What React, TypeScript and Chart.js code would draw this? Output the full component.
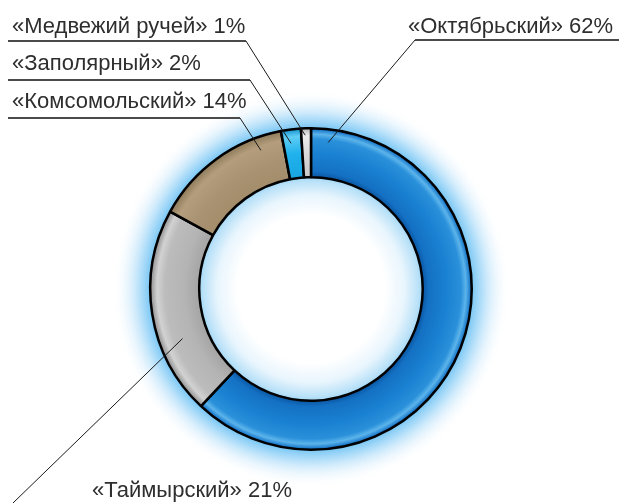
import React, { useEffect, useRef } from 'react';
import { Chart, registerables } from 'chart.js';
Chart.register(...registerables);

const mines = ['«Октябрьский»', '«Таймырский»', '«Комсомольский»', '«Заполярный»', '«Медвежий ручей»'];
const shares = [62, 21, 14, 2, 1];

// gradient stops (inner -> outer) for each slice
const sliceStops: [number, string][][] = [
  [[0, '#0a56a2'], [0.12, '#1470c2'], [0.5, '#1a82d2'], [0.78, '#2a90da'], [0.88, '#5cb4ea'], [0.95, '#2a88d4'], [1, '#0c5eae']],
  [[0, '#a4a4a4'], [0.3, '#b4b4b4'], [0.7, '#bcbcbc'], [0.86, '#d2d2d2'], [1, '#8e8e8e']],
  [[0, '#a38d6a'], [0.4, '#a89272'], [0.8, '#b39d7c'], [1, '#8e7a5a']],
  [[0, '#18a6e2'], [0.5, '#1fb2ec'], [0.85, '#60cdf4'], [1, '#1492d0']],
  [[0, '#c8c8c8'], [0.5, '#dadada'], [0.85, '#ececec'], [1, '#b4b4b4']],
];

// label layout: text position, underline, leader start, and anchor inside the slice
const labelLayout = [
  { tx: 408, ty: 33, ul: [415, 619, 40], from: [415, 40], frac: 0.03, rf: 0.73 },
  { tx: 92, ty: 497, ul: null, from: [13, 503], frac: 0.34, rf: 0.53 },
  { tx: 12, ty: 108, ul: [8, 240, 118], from: [240, 118], frac: 0.82, rf: 0.73 },
  { tx: 12, ty: 70, ul: [8, 250, 80], from: [250, 80], frac: 0.42, rf: 0.72 },
  { tx: 12, ty: 33, ul: [8, 246, 41], from: [246, 41], frac: 0.4, rf: 0.86 },
];

const glowPlugin = {
  id: 'glow',
  beforeDatasetsDraw(chart: any) {
    const arc = chart.getDatasetMeta(0).data[0];
    if (!arc) return;
    const { x, y, innerRadius, outerRadius } = arc;
    const ctx = chart.ctx;
    ctx.save();
    const g = ctx.createRadialGradient(x, y, outerRadius, x, y, outerRadius + 38);
    g.addColorStop(0, 'rgba(120,198,244,1)');
    g.addColorStop(0.25, 'rgba(160,215,248,0.85)');
    g.addColorStop(0.6, 'rgba(205,233,251,0.45)');
    g.addColorStop(1, 'rgba(255,255,255,0)');
    ctx.fillStyle = g;
    ctx.beginPath();
    ctx.arc(x, y, outerRadius + 40, 0, Math.PI * 2);
    ctx.fill();
    const g2 = ctx.createRadialGradient(x, y, innerRadius - 38, x, y, innerRadius + 2);
    g2.addColorStop(0, 'rgba(255,255,255,1)');
    g2.addColorStop(0.5, 'rgba(232,245,253,1)');
    g2.addColorStop(0.85, 'rgba(185,225,248,1)');
    g2.addColorStop(1, 'rgba(150,210,245,1)');
    ctx.fillStyle = g2;
    ctx.beginPath();
    ctx.arc(x, y, innerRadius + 2, 0, Math.PI * 2);
    ctx.fill();
    ctx.restore();
  },
};

const labelPlugin = {
  id: 'labels',
  afterDraw(chart: any) {
    const ctx = chart.ctx;
    const meta = chart.getDatasetMeta(0);
    ctx.save();
    ctx.font = '22px "Liberation Sans", Arial, sans-serif';
    ctx.textBaseline = 'alphabetic';
    ctx.textAlign = 'left';
    meta.data.forEach((arc: any, i: number) => {
      const L = labelLayout[i];
      ctx.fillStyle = '#2e2e2e';
      ctx.fillText(`${mines[i]} ${shares[i]}%`, L.tx, L.ty);
      if (L.ul) {
        ctx.strokeStyle = '#4a4a4a';
        ctx.lineWidth = 2;
        ctx.beginPath();
        ctx.moveTo(L.ul[0], L.ul[2]);
        ctx.lineTo(L.ul[1], L.ul[2]);
        ctx.stroke();
      }
      const a = arc.startAngle + L.frac * (arc.endAngle - arc.startAngle);
      const r = arc.innerRadius + L.rf * (arc.outerRadius - arc.innerRadius);
      const ex = arc.x + r * Math.cos(a);
      const ey = arc.y + r * Math.sin(a);
      ctx.strokeStyle = '#1a1a1a';
      ctx.lineWidth = 1;
      ctx.beginPath();
      ctx.moveTo(L.from[0], L.from[1]);
      ctx.lineTo(ex, ey);
      ctx.stroke();
    });
    ctx.restore();
  },
};

export default function App() {
  const ref = useRef<HTMLCanvasElement>(null);
  useEffect(() => {
    document.body.style.margin = '0';
    const chart = new Chart(ref.current!, {
      type: 'doughnut',
      data: {
        labels: mines,
        datasets: [
          {
            data: shares,
            borderColor: '#000',
            borderWidth: 2.5,
            backgroundColor: (c: any) => {
              const chart = c.chart;
              const arc = chart.getDatasetMeta(0).data[c.dataIndex];
              const stops = sliceStops[c.dataIndex];
              if (!arc || !arc.outerRadius) return stops[2][1];
              const g = chart.ctx.createRadialGradient(arc.x, arc.y, arc.innerRadius, arc.x, arc.y, arc.outerRadius);
              stops.forEach(([o, col]) => g.addColorStop(o, col));
              return g;
            },
          },
        ],
      },
      options: {
        responsive: false,
        animation: false,
        cutout: '69.5%',
        layout: { padding: { left: 149, right: 146, top: 127, bottom: 52 } },
        plugins: { legend: { display: false }, tooltip: { enabled: false } },
      },
      plugins: [glowPlugin, labelPlugin],
    });
    chart.update();
    return () => chart.destroy();
  }, []);
  return (
    <div style={{ width: 619, height: 503, background: '#fff' }}>
      <canvas ref={ref} width={619} height={503} style={{ display: 'block' }} />
    </div>
  );
}
